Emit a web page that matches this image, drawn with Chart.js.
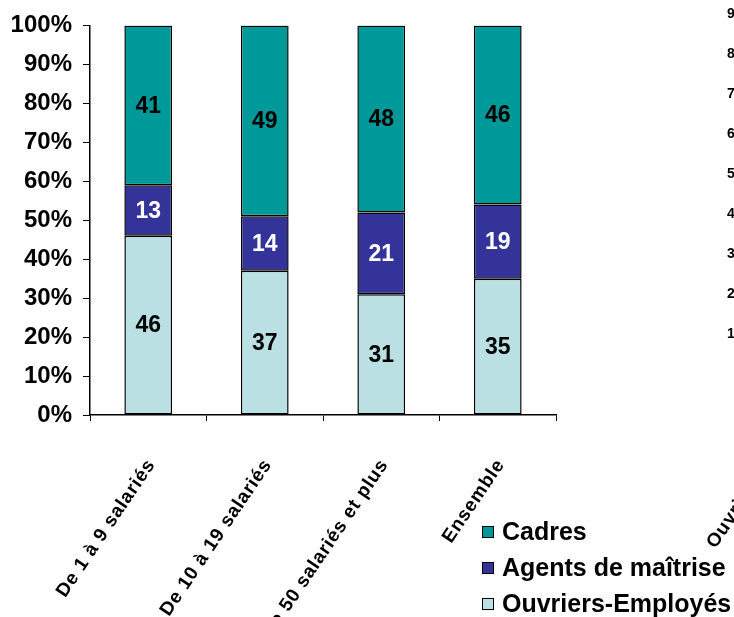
<!DOCTYPE html>
<html>
<head>
<meta charset="utf-8">
<script src="https://cdn.jsdelivr.net/npm/chart.js@4"></script>
<style>
  html, body { margin: 0; padding: 0; background: #fff; width: 734px; height: 617px; overflow: hidden; position: relative; }
  canvas { position: absolute; left: 0; top: 0; }
  .frag { position: absolute; font-family: "Liberation Sans", Arial, sans-serif; font-weight: bold; color: #000; white-space: nowrap; line-height: 1; }
</style>
</head>
<body>
<canvas id="c" width="734" height="617"></canvas>
<script>
const categories = ["De 1 à 9 salariés", "De 10 à 19 salariés", "De 50 salariés et plus", "Ensemble"];
const seriesNames = ["Ouvriers-Employés", "Agents de maîtrise", "Cadres"];
const ouvriers = [46, 37, 31, 35];
const agents = [13, 14, 21, 19];
const cadres = [41, 49, 48, 46];
const yTicks = [0, 10, 20, 30, 40, 50, 60, 70, 80, 90, 100];
const fragTicks = ["90%", "80%", "70%", "60%", "50%", "40%", "30%", "20%", "10%"];
const fragLabel = "Ouvriers-Employés";

const FONT = '"Liberation Sans", Arial, sans-serif';
const colors = ["#BBE0E3", "#333399", "#009999"];
const labelColors = ["#000", "#fff", "#000"];

const valueLabels = {
  id: 'valueLabels',
  afterDatasetsDraw(chart) {
    const ctx = chart.ctx;
    ctx.save();
    ctx.font = 'bold 23px ' + FONT;
    ctx.textAlign = 'center';
    ctx.textBaseline = 'middle';
    chart.data.datasets.forEach((ds, i) => {
      const meta = chart.getDatasetMeta(i);
      meta.data.forEach((el, j) => {
        const p = el.getProps(['x', 'y', 'base'], true);
        ctx.fillStyle = labelColors[i];
        ctx.fillText(String(ds.data[j]), p.x, (p.y + p.base) / 2 + 1);
      });
    });
    ctx.restore();
  }
};

const customLegend = {
  id: 'customLegend',
  afterDraw(chart) {
    const ctx = chart.ctx;
    ctx.save();
    ctx.font = 'bold 25px ' + FONT;
    ctx.textAlign = 'left';
    ctx.textBaseline = 'alphabetic';
    const ds = chart.data.datasets.slice().reverse();
    ds.forEach((d, k) => {
      const base = 540 + k * 36;
      ctx.fillStyle = d.backgroundColor;
      ctx.fillRect(482, base - 14, 12, 12);
      ctx.strokeStyle = '#000';
      ctx.lineWidth = 1;
      ctx.strokeRect(482.5, base - 13.5, 11, 11);
      ctx.fillStyle = '#000';
      ctx.fillText(d.label, 502, base);
    });
    ctx.restore();
  }
};

const letterSpacingX = {
  id: 'letterSpacingX',
  beforeDraw(chart) {
    const xs = chart.scales.x;
    if (xs && !xs.__ls) {
      const orig = xs.drawLabels;
      xs.drawLabels = function (a) {
        const c = this.ctx;
        c.save();
        c.letterSpacing = '0.8px';
        orig.call(this, a);
        c.restore();
      };
      xs.__ls = true;
    }
  }
};

const datasets = [ouvriers, agents, cadres].map((arr, i) => ({
  label: seriesNames[i],
  data: arr,
  backgroundColor: colors[i],
  borderColor: '#000',
  borderWidth: 1.5,
  borderSkipped: false,
  categoryPercentage: 1.0,
  barPercentage: 0.41
}));

new Chart(document.getElementById('c'), {
  type: 'bar',
  data: { labels: categories, datasets },
  options: {
    responsive: false,
    animation: false,
    events: [],
    layout: { padding: { top: 24, right: 178, left: 0, bottom: 0 } },
    plugins: { legend: { display: false }, tooltip: { enabled: false } },
    scales: {
      x: {
        stacked: true,
        grid: { display: true, drawOnChartArea: false, drawTicks: true, tickLength: 6, color: '#000', lineWidth: 1, offset: true },
        border: { display: true, color: '#000', width: 1.5 },
        ticks: {
          autoSkip: false, minRotation: 56, maxRotation: 56, padding: 34, labelOffset: 3,
          color: '#000', font: { family: FONT, weight: 'bold', size: 19 }
        },
        afterFit(scale) { scale.height = 202; }
      },
      y: {
        stacked: true,
        min: 0, max: 100,
        afterBuildTicks(scale) { scale.ticks = yTicks.map(v => ({ value: v })); },
        grid: { display: true, drawOnChartArea: false, drawTicks: true, tickLength: 7, color: '#000', lineWidth: 1 },
        border: { display: true, color: '#000', width: 1.5 },
        ticks: {
          padding: 11,
          color: '#000',
          font: { family: FONT, weight: 'bold', size: 24 },
          callback: v => v + '%'
        },
        afterFit(scale) { scale.width = 90; }
      }
    }
  },
  plugins: [valueLabels, customLegend, letterSpacingX]
});

// fragments of the neighbouring chart, cut off at the right edge
fragTicks.forEach((t, i) => {
  const d = document.createElement('div');
  d.className = 'frag';
  d.style.fontSize = '14px';
  d.style.left = '727px';
  d.style.top = (13 + i * 40 - 7) + 'px';
  d.textContent = t;
  document.body.appendChild(d);
});
const o = document.createElement('div');
o.className = 'frag';
o.style.fontSize = '19px';
o.style.letterSpacing = '0.8px';
o.style.left = '718px';
o.style.top = '532px';
o.style.transformOrigin = 'left bottom';
o.style.transform = 'rotate(-56deg)';
o.textContent = fragLabel;
document.body.appendChild(o);
</script>
</body>
</html>
